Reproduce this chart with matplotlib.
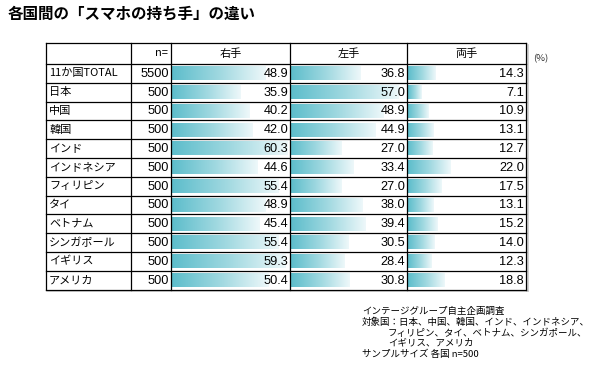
import matplotlib.pyplot as plt
import numpy as np
from matplotlib.colors import LinearSegmentedColormap

plt.rcParams['font.family'] = ['Noto Sans CJK JP', 'DejaVu Sans']

# data
countries = ['11か国TOTAL', '日本', '中国', '韓国', 'インド', 'インドネシア', 'フィリピン',
             'タイ', 'ベトナム', 'シンガポール', 'イギリス', 'アメリカ']
n_values = [5500, 500, 500, 500, 500, 500, 500, 500, 500, 500, 500, 500]
headers = ['右手', '左手', '両手']
right_hand = [48.9, 35.9, 40.2, 42.0, 60.3, 44.6, 55.4, 48.9, 45.4, 55.4, 59.3, 50.4]
left_hand = [36.8, 57.0, 48.9, 44.9, 27.0, 33.4, 27.0, 38.0, 39.4, 30.5, 28.4, 30.8]
both_hands = [14.3, 7.1, 10.9, 13.1, 12.7, 22.0, 17.5, 13.1, 15.2, 14.0, 12.3, 18.8]
series = [right_hand, left_hand, both_hands]

W, H = 600, 368
fig = plt.figure(figsize=(6, 3.68), dpi=100)
ax = fig.add_axes([0, 0, 1, 1])
ax.set_xlim(0, W)
ax.set_ylim(H, 0)
ax.axis('off')
ax.set_zorder(2)

# table geometry (pixels)
col_edges = [46, 131, 171, 290, 407, 526]
top = 43
head_h = 21
row_h = 18.8
n_rows = len(countries)
data_top = top + head_h
bottom = data_top + n_rows * row_h

cmap = LinearSegmentedColormap.from_list('bar', ['#5dbdcb', '#9fd8e0', '#eef8fa'])
grad = np.linspace(0, 1, 256).reshape(1, -1)

# bars, one axes per value column (drawn below the table text)
for j, vals in enumerate(series):
    x0, x1 = col_edges[2 + j] + 1, col_edges[3 + j]
    bax = fig.add_axes([x0 / W, 1 - bottom / H, (x1 - x0) / W, (bottom - data_top) / H])
    bax.set_zorder(1)
    bax.axis('off')
    for i, v in enumerate(vals):
        bax.imshow(grad, cmap=cmap, aspect='auto', interpolation='bilinear',
                   extent=(0, v, i + 0.86, i + 0.14))
    bax.set_xlim(0, 61.5)
    bax.set_ylim(n_rows, 0)

# shadow
ax.plot([col_edges[0] + 2, col_edges[-1] + 2], [bottom + 1.5, bottom + 1.5], color='#c8c8c8', lw=1.2)
ax.plot([col_edges[-1] + 1.5, col_edges[-1] + 1.5], [top + 2, bottom + 1.5], color='#c8c8c8', lw=1.2)

# grid lines
ys = [top, data_top] + [data_top + (i + 1) * row_h for i in range(n_rows)]
for y in ys:
    ax.plot([col_edges[0], col_edges[-1]], [y, y], color='black', lw=0.9)
for x in col_edges:
    ax.plot([x, x], [top, bottom], color='black', lw=0.9)

# header
hy = top + head_h / 2
ax.text(col_edges[2] - 3, hy, 'n=', ha='right', va='center', fontsize=8)
for j, h in enumerate(headers):
    ax.text((col_edges[2 + j] + col_edges[3 + j]) / 2, hy, h, ha='center', va='center', fontsize=8)
ax.text(533, 59, '(%)', ha='left', va='center', fontsize=6.8, color='#333333')

num_font = ['Liberation Sans', 'DejaVu Sans']
for i, c in enumerate(countries):
    cy = data_top + (i + 0.5) * row_h
    ax.text(col_edges[0] + 3, cy, c, ha='left', va='center', fontsize=8)
    ax.text(col_edges[2] - 2, cy + 0.5, f'{n_values[i]}', ha='right', va='center',
            fontsize=9.2, family=num_font)
    for j, vals in enumerate(series):
        ax.text(col_edges[3 + j] - 2, cy + 0.5, f'{vals[i]:.1f}', ha='right', va='center',
                fontsize=9.2, family=num_font)

# title
ax.text(8, 14, '各国間の「スマホの持ち手」の違い', ha='left', va='center',
        fontsize=11.2, fontweight='bold')

# notes
notes = [(362, 311, 'インテージグループ自主企画調査'),
         (362, 322, '対象国：日本、中国、韓国、インド、インドネシア、'),
         (388, 333, 'フィリピン、タイ、ベトナム、シンガポール、'),
         (388, 343, 'イギリス、アメリカ'),
         (362, 354, 'サンプルサイズ 各国 n=500')]
for x, y, t in notes:
    ax.text(x, y, t, ha='left', va='center', fontsize=6.8)

fig.savefig('out.png', dpi=100)
